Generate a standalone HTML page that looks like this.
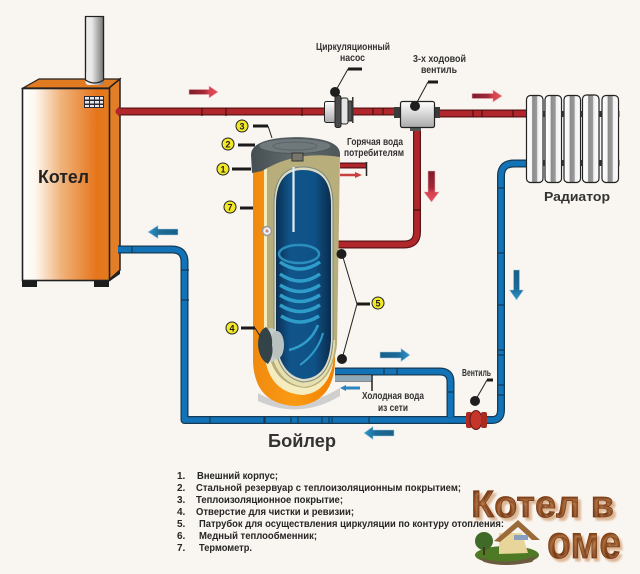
<!DOCTYPE html>
<html><head><meta charset="utf-8"><style>
html,body{margin:0;padding:0;background:#f9f5f0}
svg{display:block}
text{font-family:"Liberation Sans",sans-serif;font-weight:bold}
.s{font-size:10px;fill:#333}
.l{font-size:10px;fill:#262626}
.n{font-size:9px;text-anchor:middle;fill:#222}
.c{fill:#f2e826;stroke:#222;stroke-width:1}
.ld{stroke:#1a1a1a;stroke-width:3;fill:none}
.th{stroke:#222;stroke-width:1;fill:none}
.lg{font-size:38px;fill:url(#wood);stroke:#7a3c16;stroke-width:.8;text-shadow:3px 3px 2px #dcb593}
</style></head><body>
<svg width="640" height="574" viewBox="0 0 640 574" xmlns="http://www.w3.org/2000/svg">
<defs>
<linearGradient id="body" x1="0" x2="1" y1="0" y2="0"><stop offset="0" stop-color="#fff"/><stop offset=".15" stop-color="#fdf6ee"/><stop offset=".45" stop-color="#f0b27a"/><stop offset=".85" stop-color="#e5761c"/><stop offset="1" stop-color="#e37a1e"/></linearGradient>
<linearGradient id="ch" x1="0" x2="1" y1="0" y2="0"><stop offset="0" stop-color="#eee"/><stop offset=".35" stop-color="#e8e8e8"/><stop offset="1" stop-color="#777"/></linearGradient>
<linearGradient id="or" x1="0" x2="1" y1="0" y2="0"><stop offset="0" stop-color="#f08a10"/><stop offset=".5" stop-color="#fb9a12"/><stop offset="1" stop-color="#f08000"/></linearGradient>
<linearGradient id="bl" x1="0" x2="1" y1="0" y2="0"><stop offset="0" stop-color="#0c2f52"/><stop offset=".25" stop-color="#10548a"/><stop offset=".7" stop-color="#0f5288"/><stop offset="1" stop-color="#0a2c4c"/></linearGradient>
<linearGradient id="lid" x1="0" x2="1" y1="0" y2="0"><stop offset="0" stop-color="#454f52"/><stop offset=".5" stop-color="#626c6e"/><stop offset="1" stop-color="#4d5759"/></linearGradient>
<linearGradient id="val" x1="0" x2="0" y1="0" y2="1"><stop offset="0" stop-color="#fff"/><stop offset="1" stop-color="#aaa"/></linearGradient>
<linearGradient id="wood" x1="0" x2="0" y1="0" y2="1"><stop offset="0" stop-color="#6e3312"/><stop offset=".5" stop-color="#95501f"/><stop offset="1" stop-color="#62290c"/></linearGradient>
<linearGradient id="ra" x1="0" x2="1" y1="0" y2="0"><stop offset="0" stop-color="#fff"/><stop offset=".32" stop-color="#f4f4f4"/><stop offset=".36" stop-color="#8a8a8a"/><stop offset=".62" stop-color="#9a9a9a"/><stop offset=".68" stop-color="#f0f0f0"/><stop offset="1" stop-color="#fff"/></linearGradient>
<linearGradient id="ar" x1="0" x2="1" y1="0" y2="0"><stop offset="0" stop-color="#7d1d2b"/><stop offset=".55" stop-color="#a52a38"/><stop offset=".7" stop-color="#d8404e"/><stop offset="1" stop-color="#e0505e"/></linearGradient>
<linearGradient id="ard" x1="0" x2="0" y1="0" y2="1"><stop offset="0" stop-color="#7d1d2b"/><stop offset=".55" stop-color="#a52a38"/><stop offset=".7" stop-color="#d8404e"/><stop offset="1" stop-color="#e0505e"/></linearGradient>
<linearGradient id="ab" x1="0" x2="1" y1="0" y2="0"><stop offset="0" stop-color="#1a5f88"/><stop offset=".6" stop-color="#1c6a98"/><stop offset="1" stop-color="#2f95cc"/></linearGradient>
<linearGradient id="abl" x1="1" x2="0" y1="0" y2="0"><stop offset="0" stop-color="#1a5f88"/><stop offset=".6" stop-color="#1c6a98"/><stop offset="1" stop-color="#2f95cc"/></linearGradient>
<linearGradient id="abd" x1="0" x2="0" y1="0" y2="1"><stop offset="0" stop-color="#1a5f88"/><stop offset=".6" stop-color="#1c6a98"/><stop offset="1" stop-color="#2f95cc"/></linearGradient>
</defs>
<rect width="640" height="574" fill="#f9f5f0"/>

<!-- chimney -->
<rect x="85.500" y="16.500" width="18" height="68" fill="url(#ch)" stroke="#222" stroke-width="1.200"/>
<!-- boiler -->
<polygon points="23,88 39,79 120,79 109,88" fill="#e07b22" stroke="#222" stroke-width="1.200"/>
<rect x="85.500" y="70" width="18" height="15" rx="3" fill="url(#ch)"/>
<path d="M85.500 16.500V80q9 6 18 0V16.500" fill="none" stroke="#222" stroke-width="1.200"/>
<polygon points="109,88 120,79 120,270 109,280" fill="#e27e26" stroke="#222" stroke-width="1.500"/>
<rect x="22.500" y="88.500" width="87" height="192" fill="url(#body)" stroke="#222" stroke-width="1.600"/>
<rect x="22" y="281" width="15" height="6" fill="#1c1c1c"/>
<rect x="94" y="281" width="15" height="6" fill="#1c1c1c"/>
<polygon points="110,278 120,270 120,274 110,281" fill="#222"/>
<rect x="84" y="96" width="20" height="12" fill="#2b2b3a"/>
<g fill="#e8e8e8"><rect x="85" y="97" width="4" height="2.500"/><rect x="90" y="97" width="4" height="2.500"/><rect x="95" y="97" width="4" height="2.500"/><rect x="100" y="97" width="3" height="2.500"/><rect x="85" y="101" width="4" height="2.500"/><rect x="90" y="101" width="4" height="2.500"/><rect x="95" y="101" width="4" height="2.500"/><rect x="100" y="101" width="3" height="2.500"/><rect x="85" y="105" width="4" height="2"/><rect x="90" y="105" width="4" height="2"/><rect x="95" y="105" width="4" height="2"/><rect x="100" y="105" width="3" height="2"/></g>
<text x="38" y="183" style="font-size:18.500px;fill:#222" textLength="51" lengthAdjust="spacingAndGlyphs">Котел</text>

<!-- blue pipes -->
<g fill="none" stroke-linejoin="round">
<path d="M118 249.500H172Q184.500 249.500 184.500 262V420H466" stroke="#173a55" stroke-width="8"/>
<path d="M118 249.500H172Q184.500 249.500 184.500 262V420H466" stroke="#1273b6" stroke-width="5.500"/>
<path d="M487 420H492Q501 420 501 410V176Q501 163.500 514 163.500H527" stroke="#173a55" stroke-width="8"/>
<path d="M487 420H492Q501 420 501 410V176Q501 163.500 514 163.500H527" stroke="#1273b6" stroke-width="5.500"/>
<path d="M335 371.500H440Q450.500 371.500 450.500 382V417" stroke="#173a55" stroke-width="8"/>
<path d="M335 371.500H440Q450.500 371.500 450.500 382V417" stroke="#1273b6" stroke-width="5.500"/>
</g>
<path d="M132 246v7M181 270h8M181 300h8M264 416v8M265 416v8M291 416v8M298 416v8M322 416v8M329 416v8M332 416v8M369 416v8M210 416v8M497 188h8M497 253h8M497 305h8M497 350h8M497 355h8M497 385h8M497 395h8M384 368v7M397 368v7M447 392h7" stroke="#173a55" stroke-width="1.200"/>
<!-- cold box -->
<path d="M335 375h37M335 381h37" stroke="#222" stroke-width="1" fill="none"/>
<rect x="335" y="376" width="36" height="5" fill="#8fa9b8"/>
<path d="M372 375V391" stroke="#222" stroke-width="1.500"/>
<path d="M345 388h15" stroke="#2d85c0" stroke-width="3"/><path d="M340 388l6-3v6z" fill="#2d85c0"/>

<!-- red pipes -->
<g fill="none">
<path d="M118 111.500H326" stroke="#5b1518" stroke-width="8"/>
<path d="M118 111.500H326" stroke="#b0262b" stroke-width="5.500"/>
<path d="M352 111.500H400" stroke="#5b1518" stroke-width="8"/>
<path d="M352 111.500H400" stroke="#b0262b" stroke-width="5.500"/>
<path d="M436 113.500H527" stroke="#5b1518" stroke-width="8"/>
<path d="M436 113.500H527" stroke="#b0262b" stroke-width="5.500"/>
<path d="M417 127V232Q417 244.500 404 244.500H338" stroke="#5b1518" stroke-width="8"/>
<path d="M417 127V232Q417 244.500 404 244.500H338" stroke="#b0262b" stroke-width="5.500"/>
<path d="M340 165.500H366" stroke="#5b1518" stroke-width="6"/>
<path d="M340 165.500H366" stroke="#b0262b" stroke-width="3.500"/>
</g>
<path d="M202 108v8M226 108v8M302 108v8M373 108v7M383 108v7M473 110v7M482 110v7M513 110v7M413 210h8" stroke="#4b1012" stroke-width="1.200"/>
<circle cx="119" cy="111.500" r="3.500" fill="#b0262b"/>
<path d="M366.500 162V176" stroke="#222" stroke-width="1.500"/>
<path d="M340 175h16" stroke="#c84040" stroke-width="2.500"/><path d="M355 172l7 3-7 3z" fill="#c84040"/>

<!-- boiler tank -->
<path d="M258 393q37 22 82-5v8q-40 24-82 5z" fill="#cfcfcf"/>
<path d="M253 165V362Q255 405 297 406Q333 403 335 362V165Z" fill="url(#or)"/>
<path d="M264 165V350Q267 393 303 395Q332 392 335 350V165Z" fill="#f5edc0"/>
<path d="M267 168Q296 148 340 155L337 345Q332 384 306 388Q272 386 267 345Z" fill="#b8ae7c"/>
<path d="M269 340Q274 384 305 387Q331 383 335 345L335 340Z" fill="#e8dfae"/>
<path d="M274 205Q274 167 303 167Q333 167 333 205V340Q331 381 303 382Q278 378 274 340Z" fill="#dedbc4" stroke="#7d8a7d" stroke-width="1"/>
<path d="M276 205Q276 170 303 170Q331 170 331 205V340Q329 378 303 379Q280 375 276 340Z" fill="url(#bl)"/>
<!-- coil -->
<ellipse cx="299" cy="254" rx="20" ry="9" fill="none" stroke="#2b8fbd" stroke-width="2.500"/>
<g fill="none" stroke="#2f9dca" stroke-width="3.500">
<path d="M280 262Q300 276 320 262"/>
<path d="M280 274Q300 288 320 274"/>
<path d="M280 285Q300 298 320 285"/>
<path d="M280 295Q300 308 320 295"/>
<path d="M280 305Q300 318 320 305"/>
<path d="M281 316Q300 328 319 316"/>
<path d="M289 350Q310 345 318 325" stroke-width="2.500"/>
<path d="M300 365Q318 352 323 333" stroke-width="2"/>
</g>
<path d="M293.500 167V232" stroke="#dfeef5" stroke-width="2.200"/>
<!-- lid -->
<path d="M251 155Q251 138 296 137Q340 138 340 154V157Q296 150 262 171L252 173Z" fill="url(#lid)"/>
<ellipse cx="295" cy="146" rx="36" ry="7.500" fill="#6f797b" stroke="#4d5759" stroke-width="1"/>
<ellipse cx="295" cy="146" rx="22" ry="4" fill="none" stroke="#59636a" stroke-width="1"/>
<rect x="292" y="153" width="11" height="8" fill="#77756a" stroke="#333" stroke-width="1"/>
<!-- thermometer -->
<circle cx="267" cy="231" r="4.500" fill="#eee" stroke="#999" stroke-width="1.500"/>
<circle cx="267" cy="231" r="1.500" fill="#d08080"/>
<!-- door -->
<ellipse cx="271" cy="345" rx="9" ry="17" fill="#c6ccc8"/>
<ellipse cx="277" cy="345" rx="7" ry="14" fill="#b9c2c0"/>
<path d="M266 327Q258 331 258 345Q259 359 268 364Q274 355 272 345Q273 334 266 327Z" fill="#334348"/>

<!-- pump -->
<rect x="324.500" y="101.500" width="11" height="21" rx="2" fill="url(#val)" stroke="#222"/>
<rect x="335" y="95.500" width="6" height="32" rx="2" fill="#4a4a4a" stroke="#222"/>
<rect x="341" y="98" width="7" height="26" rx="2" fill="#e4e4e4" stroke="#222"/>
<rect x="348" y="101" width="4" height="20" fill="#555" stroke="#222"/>
<rect x="352" y="97" width="1.500" height="26" fill="#333"/>
<!-- valve -->
<rect x="394" y="107" width="7" height="11" fill="#3b3b3b"/>
<rect x="434" y="107" width="6" height="11" fill="#3b3b3b"/>
<rect x="410" y="125" width="11" height="6" fill="#555"/>
<rect x="400.500" y="101.500" width="34" height="26" rx="2" fill="url(#val)" stroke="#222" stroke-width="1.200"/>
<!-- vent valve -->
<rect x="466" y="412" width="6" height="16" rx="2" fill="#b32b20"/>
<ellipse cx="476" cy="420" rx="6" ry="9.500" fill="#c4352a" stroke="#5b1518"/>
<rect x="481" y="412" width="6" height="16" rx="2" fill="#a92a20"/>

<!-- radiator -->
<g stroke="#222" stroke-width="1.200" fill="url(#ra)">
<rect x="526.500" y="95.500" width="16.500" height="87" rx="4"/>
<rect x="545" y="95.500" width="16.500" height="87" rx="4"/>
<rect x="564" y="95.500" width="16.500" height="87" rx="4"/>
<rect x="582.500" y="95" width="16.500" height="87.500" rx="4"/>
<rect x="602" y="95.500" width="16.500" height="87" rx="4"/>
</g>
<g fill="#333"><rect x="543" y="111" width="2" height="6"/><rect x="561.500" y="111" width="2.500" height="6"/><rect x="580.500" y="111" width="2" height="6"/><rect x="599" y="111" width="3" height="6"/><rect x="543" y="160" width="2" height="6"/><rect x="561.500" y="160" width="2.500" height="6"/><rect x="580.500" y="160" width="2" height="6"/><rect x="599" y="160" width="3" height="6"/><rect x="618" y="111" width="1.500" height="6"/><rect x="618" y="160" width="1.500" height="6"/></g>
<text x="544" y="201" style="font-size:13px;fill:#333" textLength="66" lengthAdjust="spacingAndGlyphs">Радиатор</text>

<!-- flow arrows -->
<g stroke-width=".6">
<path d="M189 89.500h20v-3.500l9 6-9 6v-3.500h-20z" fill="url(#ar)" stroke="#e6b0b0"/>
<path d="M472 93.500h21v-3.500l9 6-9 6v-3.500h-21z" fill="url(#ar)" stroke="#e6b0b0"/>
<path d="M428 171h7v21h4l-7.500 10-7.500-10h4z" fill="url(#ard)" stroke="#e6b0b0"/>
<path d="M178 229h-20v-3.500l-10 6.500 10 6.500v-3.500h20z" fill="url(#abl)" stroke="#a8d0e0"/>
<path d="M380 352h21v-3.500l9 6.500-9 6.500v-3.500h-21z" fill="url(#ab)" stroke="#a8d0e0"/>
<path d="M394 430h-21v-3.500l-9 6.500 9 6.500v-3.500h21z" fill="url(#abl)" stroke="#a8d0e0"/>
<path d="M513.500 270h6v20h4l-7 10-7-10h4z" fill="url(#abd)" stroke="#a8d0e0"/>
</g>

<!-- leaders -->
<path class="ld" d="M232 169H251M238 145H255M253 126H268M240 208H253M241 328H255M357 304H370M348 69H362M428 82H438M487 380H493"/>
<path class="th" d="M268 126L272 138M255 328L260 336M357 304L342 254M357 304L342 359M348 69L335 92M428 82L415 106M487 380L475 401"/>
<g fill="#1e1e1e"><circle cx="341.500" cy="254" r="5"/><circle cx="342" cy="359" r="5"/><circle cx="335" cy="92" r="5"/><circle cx="415" cy="106" r="5"/><circle cx="475" cy="401" r="5"/></g>
<g>
<circle class="c" cx="223" cy="169" r="6"/><text class="n" x="223" y="172.500">1</text>
<circle class="c" cx="228" cy="144" r="6"/><text class="n" x="228" y="147.500">2</text>
<circle class="c" cx="242" cy="126" r="6"/><text class="n" x="242" y="129.500">3</text>
<circle class="c" cx="230" cy="207" r="6"/><text class="n" x="230" y="210.500">7</text>
<circle class="c" cx="232" cy="328" r="6"/><text class="n" x="232" y="331.500">4</text>
<circle class="c" cx="378" cy="303" r="6"/><text class="n" x="378" y="306.500">5</text>
</g>

<!-- labels -->
<text class="s" x="316" y="50" textLength="74" lengthAdjust="spacingAndGlyphs">Циркуляционный</text>
<text class="s" x="340" y="61" textLength="25" lengthAdjust="spacingAndGlyphs">насос</text>
<text class="s" x="413" y="62" textLength="53" lengthAdjust="spacingAndGlyphs">3-х ходовой</text>
<text class="s" x="421" y="73" textLength="36" lengthAdjust="spacingAndGlyphs">вентиль</text>
<text class="s" x="347" y="145" textLength="56" lengthAdjust="spacingAndGlyphs">Горячая вода</text>
<text class="s" x="344" y="156" textLength="60" lengthAdjust="spacingAndGlyphs">потребителям</text>
<text class="s" x="362" y="399" textLength="62" lengthAdjust="spacingAndGlyphs">Холодная вода</text>
<text class="s" x="378" y="411" textLength="30" lengthAdjust="spacingAndGlyphs">из сети</text>
<text class="s" x="462" y="376" textLength="29" lengthAdjust="spacingAndGlyphs">Вентиль</text>
<text x="268" y="447" style="font-size:18px;fill:#333" textLength="68" lengthAdjust="spacingAndGlyphs">Бойлер</text>

<!-- list -->
<g>
<text class="l" x="177" y="479">1.</text><text class="l" x="197" y="479" textLength="81" lengthAdjust="spacingAndGlyphs">Внешний корпус;</text>
<text class="l" x="177" y="491">2.</text><text class="l" x="196" y="491" textLength="265" lengthAdjust="spacingAndGlyphs">Стальной резервуар с теплоизоляционным покрытием;</text>
<text class="l" x="177" y="503">3.</text><text class="l" x="196" y="503" textLength="147" lengthAdjust="spacingAndGlyphs">Теплоизоляционное покрытие;</text>
<text class="l" x="177" y="515">4.</text><text class="l" x="196" y="515" textLength="158" lengthAdjust="spacingAndGlyphs">Отверстие для чистки и ревизии;</text>
<text class="l" x="177" y="527">5.</text><text class="l" x="199" y="527" textLength="305" lengthAdjust="spacingAndGlyphs">Патрубок для осуществления циркуляции по контуру отопления:</text>
<text class="l" x="177" y="539">6.</text><text class="l" x="199" y="539" textLength="118" lengthAdjust="spacingAndGlyphs">Медный теплообменник;</text>
<text class="l" x="177" y="551">7.</text><text class="l" x="199" y="551" textLength="53" lengthAdjust="spacingAndGlyphs">Термометр.</text>
</g>

<!-- logo -->
<text class="lg" x="471" y="517" textLength="143" lengthAdjust="spacingAndGlyphs">Котел в</text>
<text class="lg" x="547" y="558" style="font-size:46px" textLength="74" lengthAdjust="spacingAndGlyphs">оме</text>
<ellipse cx="507" cy="555" rx="32" ry="9" fill="#4f7a25"/>
<path d="M478 557q30 10 60-2l-6 7q-28 6-48 0z" fill="#6a5a3e"/>
<circle cx="484" cy="541" r="9" fill="#3f6a28"/>
<rect x="483" y="547" width="2" height="8" fill="#4a3220"/>
<polygon points="499,533 522,533 528,553 499,554" fill="#e8d59a"/>
<polygon points="494,541 518,520 540,540 532,540 518,527 500,542" fill="#9a6a3a"/>
<rect x="514" y="535" width="14" height="5" fill="#8aa0c0"/>
</svg>
</body></html>
